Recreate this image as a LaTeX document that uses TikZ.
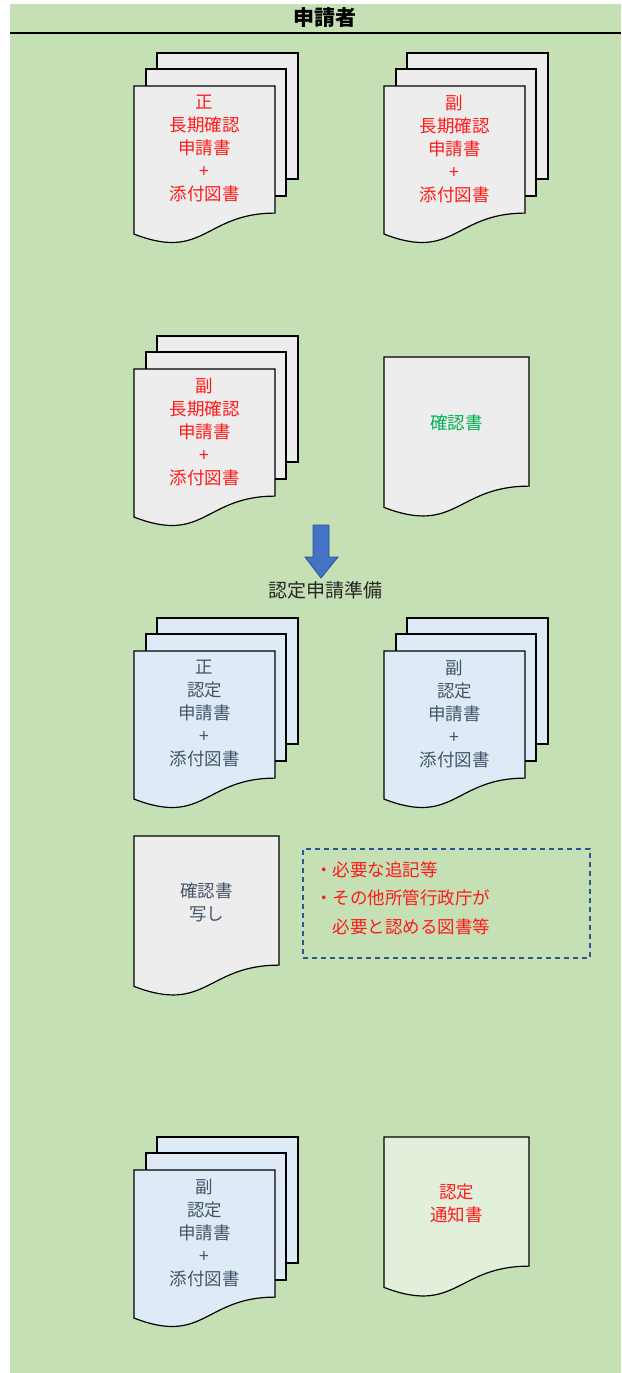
\documentclass[tikz,border=0pt]{standalone}
\usepackage{fontspec}
\newfontfamily\jp{Noto Sans CJK JP}
\definecolor{bggreen}{HTML}{C5E0B4}
\definecolor{pagegrey}{HTML}{EDEDED}
\definecolor{pageblue}{HTML}{DEEBF7}
\definecolor{pagegreen}{HTML}{E2EFDA}
\definecolor{txtred}{HTML}{FF1A1A}
\definecolor{txtgreen}{HTML}{00B050}
\definecolor{txtslate}{HTML}{44546A}
\definecolor{arrowfill}{HTML}{4472C4}
\definecolor{arrowdraw}{HTML}{2F528F}
\definecolor{dashblue}{HTML}{2F5597}
\newcommand\docshape[5]{% fill, x, y, w, Hn
  \draw[pageline, fill=#1] (#2,#3) -- (#2+#4,#3) -- (#2+#4,#3+0.802*#5)
    .. controls (#2+0.5*#4,#3+0.802*#5) and (#2+0.5*#4,#3+1.1075*#5) .. (#2,#3+0.934*#5) -- cycle;}
\newcommand\docstack[4]{% fill, x, y (front top), name
  \draw[pageline, fill=#1] (#2+23,#3-33) rectangle (#2+164,#3+93);
  \draw[pageline, fill=#1] (#2+12,#3-17) rectangle (#2+152,#3+110);
  \docshape{#1}{#2}{#3}{141}{158.5}
  \coordinate (#4) at (#2+70.5,#3+63);}
\newcommand\docsingle[4]{% fill, x, y, name
  \docshape{#1}{#2}{#3}{145}{161}
  \coordinate (#4) at (#2+72.5,#3+66);}
\begin{document}
\begin{tikzpicture}[x=1pt,y=-1pt,
  pageline/.style={draw=black, line width=1.2pt},
  doctext/.style={font=\jp\fontsize{17.5}{23}\selectfont, align=center, inner sep=0pt},
  redtext/.style={doctext, text=txtred},
  slatetext/.style={doctext, text=txtslate}]
\useasboundingbox (0,0) rectangle (621,1373);
\fill[bggreen] (10,4) rectangle (621,1373);
\node[font=\jp\bfseries\fontsize{21}{24}\selectfont, inner sep=0pt] (header) at (324.5,18) {申請者};
\draw[line width=2pt] (10,33) -- (621,33);
% row 1
\docstack{pagegrey}{134}{86}{s1}
\node[redtext] (t1) at (s1) {正\\長期確認\\申請書\\+\\添付図書};
\docstack{pagegrey}{384}{86}{s2}
\node[redtext] (t2) at (s2) {副\\長期確認\\申請書\\+\\添付図書};
% row 2
\docstack{pagegrey}{134}{369}{s3}
\node[redtext] (t3) at (s3) {副\\長期確認\\申請書\\+\\添付図書};
\docsingle{pagegrey}{384}{357}{d1}
\node[doctext, text=txtgreen] (t4) at (d1) {確認書};
% arrow
\draw[fill=arrowfill, draw=arrowdraw, line width=0.8pt]
  (313,525) -- (329,525) -- (329,557) -- (338,557) -- (321,578) -- (305,557) -- (313,557) -- cycle;
\node[doctext, font=\jp\fontsize{19}{23}\selectfont, text=black!85] (prep) at (325,590) {認定申請準備};
% row 3
\docstack{pageblue}{134}{651}{s4}
\node[slatetext] (t5) at (s4) {正\\認定\\申請書\\+\\添付図書};
\docstack{pageblue}{384}{651}{s5}
\node[slatetext] (t6) at (s5) {副\\認定\\申請書\\+\\添付図書};
% row 4
\docsingle{pagegrey}{134}{836}{d2}
\node[slatetext] (t7) at (d2) {確認書\\写し};
\node[draw=dashblue, line width=1.2pt, dash pattern=on 5pt off 4pt, minimum width=287pt, minimum height=109pt, inner sep=0pt] (note) at (446.5,903.5) {};
\node[font=\jp\fontsize{17.5}{29}\selectfont, text=txtred, align=left, anchor=north west, inner sep=0pt] (notetext) at (315,861) {・必要な追記等\\・その他所管行政庁が\\\phantom{・}必要と認める図書等};
% row 5
\docstack{pageblue}{134}{1170}{s6}
\node[slatetext] (t8) at (s6) {副\\認定\\申請書\\+\\添付図書};
\docsingle{pagegreen}{384}{1137}{d3}
\node[redtext] (t9) at (d3) {認定\\通知書};
\end{tikzpicture}
\end{document}
